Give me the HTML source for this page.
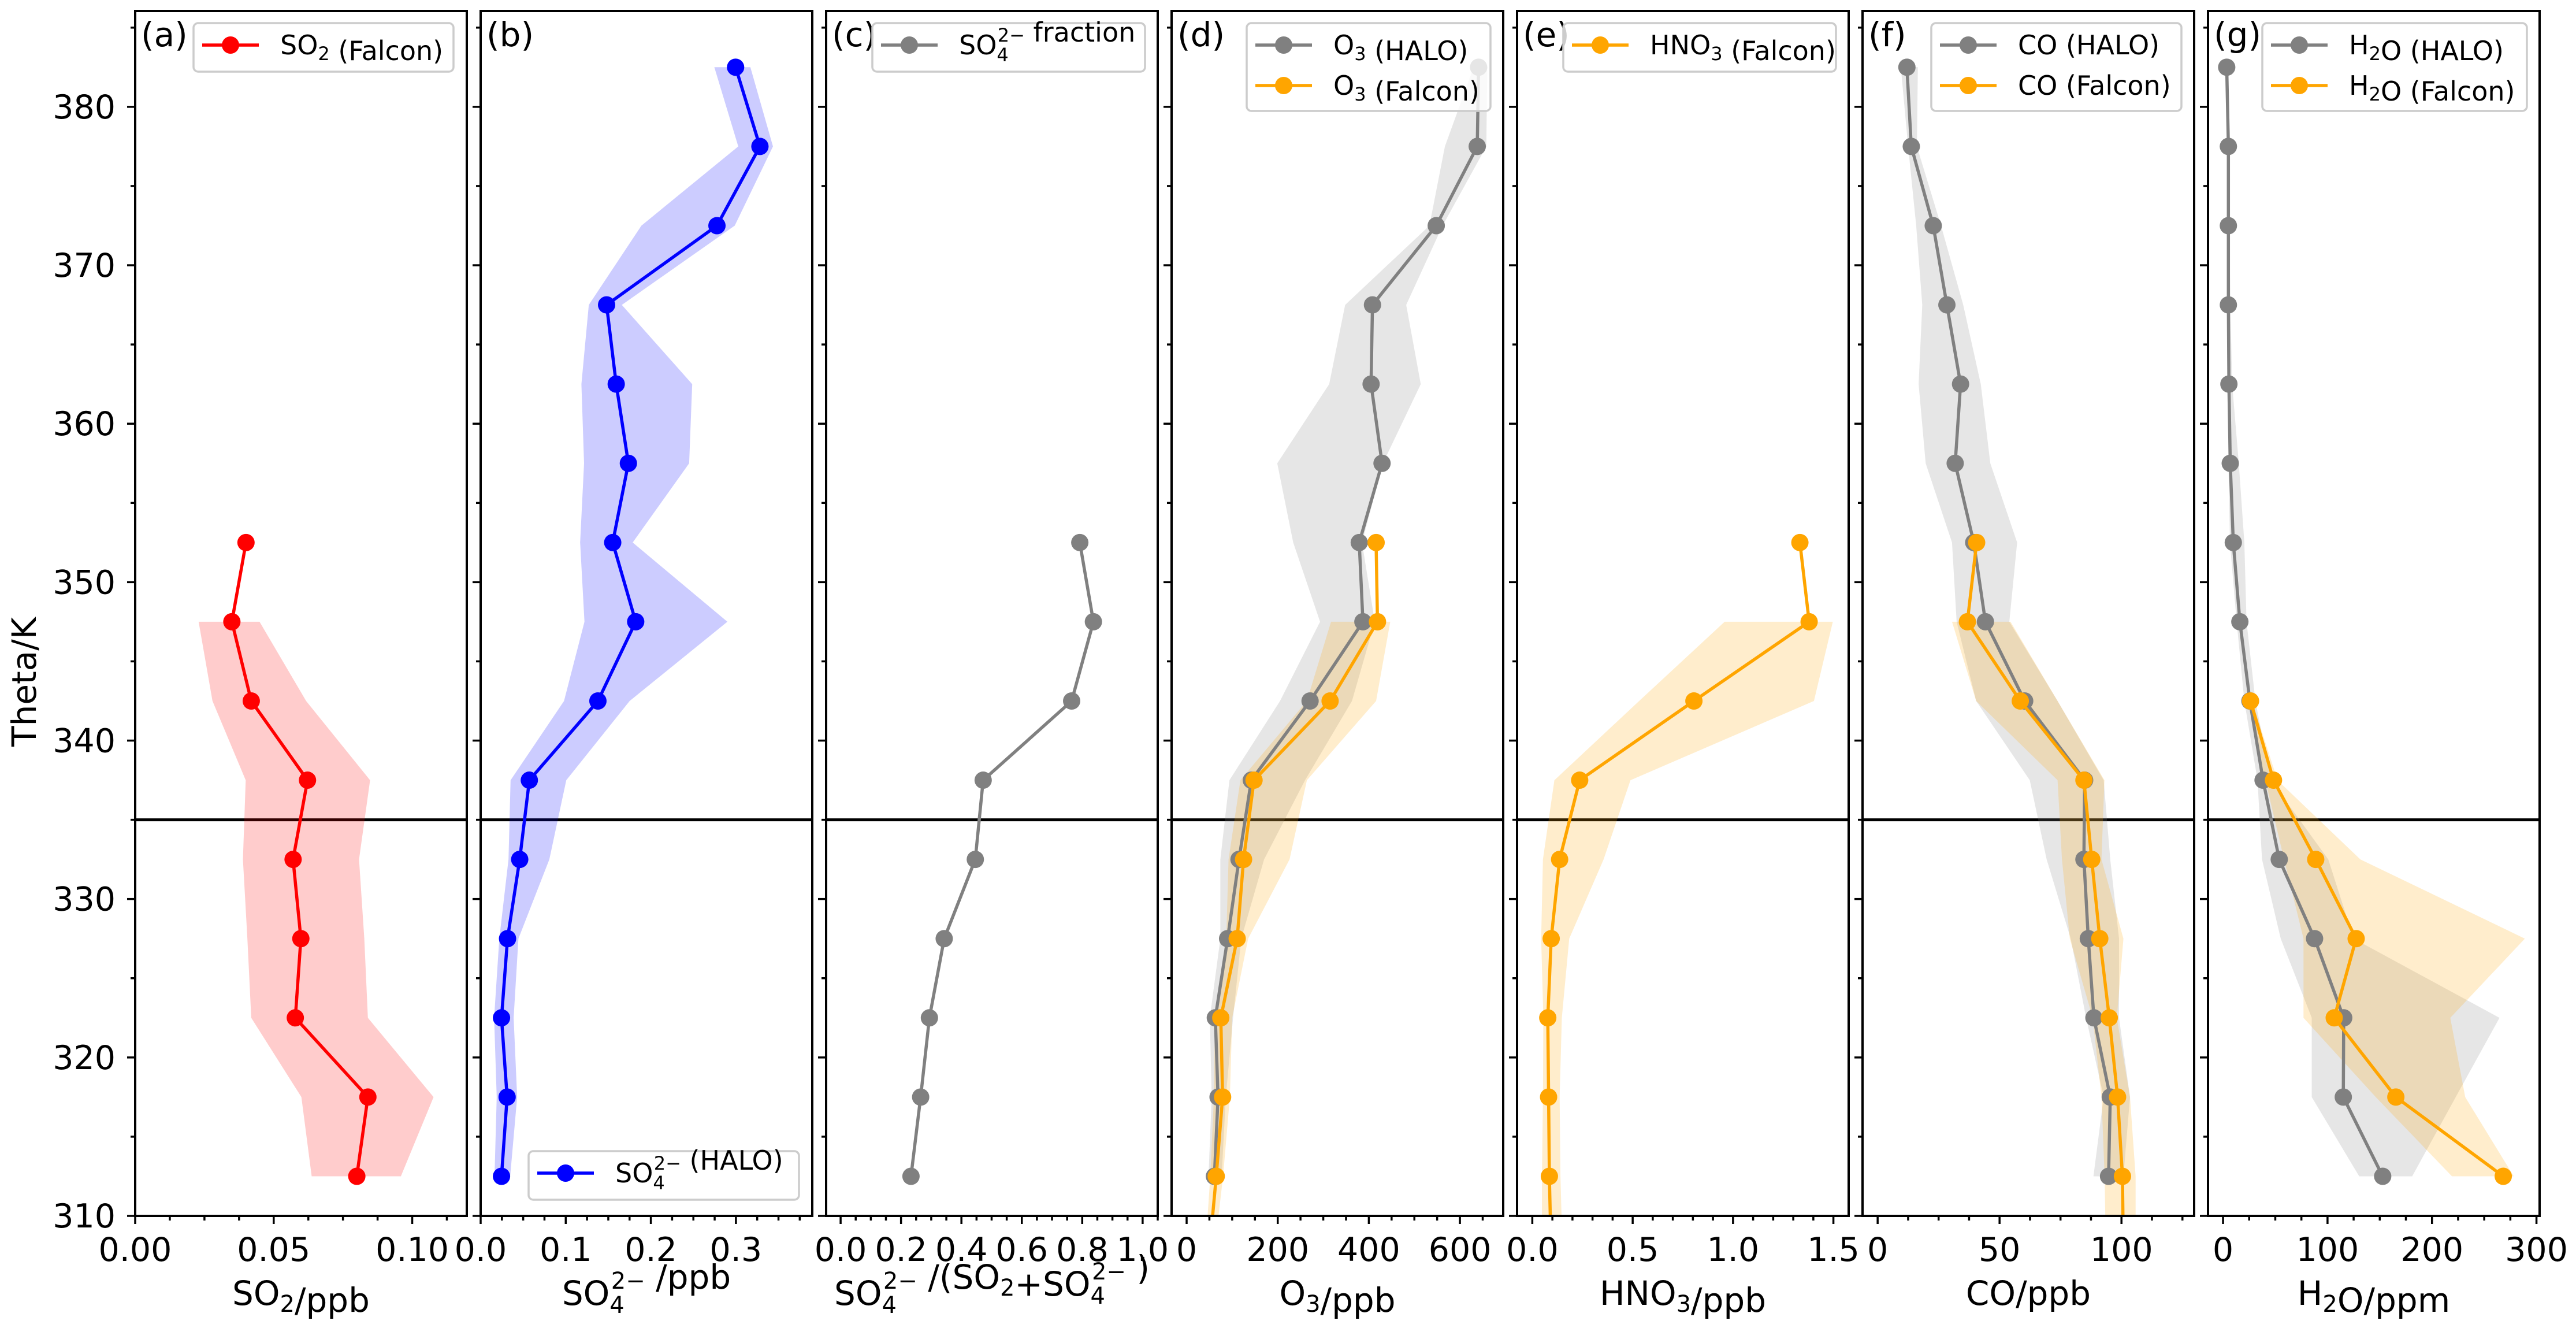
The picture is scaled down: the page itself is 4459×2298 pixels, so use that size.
<!DOCTYPE html>
<html><head><meta charset="utf-8">
<style>
html,body{margin:0;padding:0;background:#fff;}
svg{display:block;font-family:"DejaVu Sans","Liberation Sans",sans-serif;}
</style></head>
<body>
<svg id="fig" xmlns="http://www.w3.org/2000/svg" width="4459" height="2298" viewBox="0 0 4459 2298">
<rect x="0" y="0" width="4459" height="2298" fill="#fff"/>
<text transform="translate(62,1180) rotate(-90)" text-anchor="middle" font-size="58">Theta/K</text>
</svg>
<script>
// ---- data ----
const thetaHALO = [312.5,317.5,322.5,327.5,332.5,337.5,342.5,347.5,352.5,357.5,362.5,367.5,372.5,377.5,382.5];
const thetaSO2 = [312.5,317.5,322.5,327.5,332.5,337.5,342.5,347.5,352.5];
const thetaFalcon = [307.5,312.5,317.5,322.5,327.5,332.5,337.5,342.5,347.5,352.5];
const thetaH2OF = [312.5,317.5,322.5,327.5,332.5,337.5,342.5];

const so2 = [0.0800,0.0840,0.0578,0.0598,0.0570,0.0622,0.0419,0.0349,0.0400];
const so2Lo = [0.0637,0.0600,0.0419,0.0405,0.0389,0.0399,0.0279,0.0229];
const so2Hi = [0.0959,0.1077,0.0840,0.0827,0.0808,0.0848,0.0617,0.0449];

const so4 = [0.0245,0.0311,0.0245,0.0316,0.0459,0.0572,0.1378,0.1822,0.1552,0.1736,0.1593,0.1480,0.2777,0.3282,0.2996];
const so4Lo = [0.0163,0.0189,0.0158,0.0219,0.0327,0.0352,0.098,0.122,0.1169,0.1215,0.1184,0.1271,0.1889,0.3027,0.2746];
const so4Hi = [0.0347,0.0429,0.0388,0.0444,0.0807,0.1006,0.1751,0.29,0.1787,0.245,0.2486,0.1659,0.2986,0.3435,0.317];

const frac = [0.233,0.265,0.294,0.343,0.446,0.472,0.765,0.837,0.792];

const o3H = [61,69,63,90,115,142,271,387,379,429,405,408,548,638,641];
const o3HLo = [48,55,51,74,74,94,205,293,234,199,313,348,533,567,630];
const o3HHi = [77,86,102,120,170,260,363,413,385,431,514,482,562,658,660];
const o3F = [49,65,79,75,111,125,148,315,419,416];
const o3FLo = [40,52,60,62,87,92,118,264,317];
const o3FHi = [60,80,95,100,135,226,264,416,447];

const hno3 = [0.094,0.085,0.081,0.077,0.094,0.136,0.236,0.805,1.379,1.333];
const hno3Lo = [0.048,0.048,0.053,0.055,0.044,0.053,0.110,0.532,0.958];
const hno3Hi = [0.151,0.140,0.136,0.147,0.184,0.355,0.489,1.403,1.497];

const coH = [94.7,95.4,88.7,86.4,84.6,84.9,60.3,44.2,39.4,31.8,34.0,28.4,22.8,13.8,12.0];
const coHLo = [88.5,92.7,85.5,79.2,69.3,62.4,40.4,32.4,30.5,19.7,16.8,18.3,15.8,12.5,9.5];
const coHHi = [100.8,103.5,99,99,95.4,92.7,73.8,54,57.2,46.2,42.3,35.1,26,16.1,16.5];
const coF = [100.8,100.4,98.4,95.0,91.1,87.8,84.6,58.5,36.8,40.6];
const coFLo = [93.6,93.1,91.8,88.2,78.8,75.6,73.8,40.4,30.5];
const coFHi = [105.8,105.8,103.5,98.1,100.8,91.8,93,73.8,54.5];

const h2oH = [152.8,115.1,115.5,87.6,53.8,38.3,25.7,16.1,9.8,6.9,5.6,5.1,5.1,5.1,3.5];
const h2oHLo = [130.3,84.9,84.9,55.2,37.3,33,20.4,13,6.6,5.2,4.5,4,4,4,3];
const h2oHHi = [181,222.7,264.6,125,100.7,45.7,31,22.5,20.4,15.1,8.7,7,6,6,5];
const h2oF = [268.2,165.4,106.4,127.4,88.7,48.3,26.3];
const h2oFLo = [219.1,146.2,77,77,58.4,40.5,23.5];
const h2oFHi = [278.3,231.8,217.5,288.9,131.4,52.1,27.8];

const yTicks = [310,320,330,340,350,360,370,380];
const yTickLabels = ["310","320","330","340","350","360","370","380"];
const xTicksA = [0,0.05,0.10]; const xTickLabelsA = ["0.00","0.05","0.10"];
const xTicksB = [0,0.1,0.2,0.3]; const xTickLabelsB = ["0.0","0.1","0.2","0.3"];
const xTicksC = [0,0.2,0.4,0.6,0.8,1.0]; const xTickLabelsC = ["0.0","0.2","0.4","0.6","0.8","1.0"];
const xTicksD = [0,200,400,600]; const xTickLabelsD = ["0","200","400","600"];
const xTicksE = [0,0.5,1.0,1.5]; const xTickLabelsE = ["0.0","0.5","1.0","1.5"];
const xTicksF = [0,50,100]; const xTickLabelsF = ["0","50","100"];
const xTicksG = [0,100,200,300]; const xTickLabelsG = ["0","100","200","300"];
const tropopauseTheta = 335;

// ---- layout ----
const NS = "http://www.w3.org/2000/svg";
const svg = document.getElementById('fig');
const TOP = 19, BOTTOM = 2104, YMIN = 310, YMAX = 386.05, PW = 574;
function yS(t){ return BOTTOM - (t - YMIN) / (YMAX - YMIN) * (BOTTOM - TOP); }
function mk(tag, attrs, parent){ const e = document.createElementNS(NS, tag); for (const k in attrs) e.setAttribute(k, attrs[k]); (parent||svg).appendChild(e); return e; }

const C = {red:'#ff0000', blue:'#0000ff', grey:'#808080', orange:'#ffa500'};

function panel(i, key, xmin, xmax, minorStep, ticks, tickLabels, xlabelHTML, letter){
  const L = 234 + 598 * i;
  const xS = v => L + (v - xmin) / (xmax - xmin) * PW;
  const g = mk('g', {});
  
  
  const cp = mk('clipPath', {id: 'clip' + i}, g);
  mk('rect', {x: L, y: TOP, width: PW, height: BOTTOM - TOP}, cp);
  const plot = mk('g', {'clip-path': 'url(#clip' + i + ')'}, g);
  const hl = mk('line', {x1: L, x2: L + PW, y1: yS(tropopauseTheta), y2: yS(tropopauseTheta), stroke: '#000', 'stroke-width': 5}, plot);
  
  
  const fr = mk('rect', {x: L, y: TOP, width: PW, height: BOTTOM - TOP, fill: 'none', stroke: '#000', 'stroke-width': 4}, g);
  
  
  for (let t = 310; t <= 385; t += 5){
    const major = t % 10 === 0;
    mk('line', {x1: L - (major ? 14 : 8), x2: L, y1: yS(t), y2: yS(t), stroke: '#000', 'stroke-width': 3.5}, g);
  }
  if (i === 0){
    yTicks.forEach((t, k) => {
      const tl = mk('text', {x: 200, y: yS(t) + 20, 'text-anchor': 'end', 'font-size': 57}, g);
      tl.textContent = yTickLabels[k];
      
      
    });
  }
  const start = Math.ceil((xmin - 1e-9) / minorStep);
  for (let k = start; k * minorStep <= xmax + 1e-9; k++){
    const v = k * minorStep;
    const major = ticks.some(t => Math.abs(t - v) < minorStep * 0.01);
    mk('line', {x1: xS(v), x2: xS(v), y1: BOTTOM, y2: BOTTOM + (major ? 14 : 8), stroke: '#000', 'stroke-width': 3.5}, g);
  }
  ticks.forEach((t, k) => {
    const tl = mk('text', {x: xS(t), y: 2182, 'text-anchor': 'middle', 'font-size': 57}, g);
    tl.textContent = tickLabels[k];
    
    
  });
  const xl = mk('text', {x: L + PW / 2, y: 2258, 'text-anchor': 'middle', 'font-size': 58}, g);
  xl.innerHTML = xlabelHTML;
  
  
  const pl = mk('text', {x: L + 10, y: 80, 'font-size': 58}, g);
  pl.textContent = '(' + letter + ')';
  
  
  return {L, xS, g, plot};
}

function band(P, th, lo, hi, color, name){
  let d = '';
  lo.forEach((v, k) => { d += (k ? 'L' : 'M') + P.xS(v).toFixed(1) + ',' + yS(th[k]).toFixed(1); });
  for (let k = hi.length - 1; k >= 0; k--) d += 'L' + P.xS(hi[k]).toFixed(1) + ',' + yS(th[k]).toFixed(1);
  const p = mk('path', {d: d + 'Z', fill: color, 'fill-opacity': 0.2, stroke: 'none'}, P.plot);
  
  
}
function series(P, th, vals, color, name){
  const pts = vals.map((v, k) => P.xS(v).toFixed(1) + ',' + yS(th[k]).toFixed(1)).join(' ');
  const pl = mk('polyline', {points: pts, fill: 'none', stroke: color, 'stroke-width': 5.5, 'stroke-linejoin': 'round'}, P.plot);
  
  
  vals.forEach((v, k) => {
    const c = mk('circle', {cx: P.xS(v), cy: yS(th[k]), r: 15, fill: color}, P.plot);
    
    
  });
}
function legend(P, x, y, w, entries){
  const g = mk('g', {}, P.g);
  
  
  const h = entries.length === 1 ? 84 : 152;
  mk('rect', {x: x, y: y, width: w, height: h, rx: 8, fill: '#fff', 'fill-opacity': 0.8, stroke: '#cccccc', 'stroke-width': 3.5}, g);
  entries.forEach((e, k) => {
    const cy = y + 38 + k * 70;
    mk('line', {x1: x + 15, x2: x + 113, y1: cy, y2: cy, stroke: e.color, 'stroke-width': 5.5}, g);
    mk('circle', {cx: x + 64, cy: cy, r: 15, fill: e.color}, g);
    const t = mk('text', {x: x + 150, y: cy + 16, 'font-size': 46}, g);
    t.innerHTML = e.html;
    
    
  });
}
const SUB = (s) => '<tspan dy="10" font-size="32">' + s + '</tspan><tspan dy="-10"></tspan>';
const SO4 = 'SO<tspan dy="12" font-size="32">4</tspan><tspan dx="-19" dy="-34" font-size="32">2−</tspan><tspan dy="22"></tspan>';
const SO4L = 'SO<tspan dy="14" font-size="40">4</tspan><tspan dx="-23" dy="-42" font-size="40">2−</tspan><tspan dy="28"></tspan>';
const SUBL = (s) => '<tspan dy="12" font-size="40">' + s + '</tspan><tspan dy="-12"></tspan>';

const A = panel(0, 'so2', 0, 0.1197, 0.0125, xTicksA, xTickLabelsA, 'SO' + SUBL('2') + '/ppb', 'a');
band(A, thetaSO2, so2Lo, so2Hi, C.red, 'so2-range');
series(A, thetaSO2, so2, C.red, 'so2-falcon');
legend(A, 335, 40, 450, [{color: C.red, html: 'SO' + SUB('2') + ' (Falcon)'}]);

const B = panel(1, 'so4', 0, 0.3897, 0.025, xTicksB, xTickLabelsB, SO4L + ' /ppb', 'b');
band(B, thetaHALO, so4Lo, so4Hi, C.blue, 'so4-range');
series(B, thetaHALO, so4, C.blue, 'so4-halo');
legend(B, 915, 1992, 468, [{color: C.blue, html: SO4 + '  (HALO)'}]);

const Cc = panel(2, 'so4-fraction', -0.048, 1.05, 0.05, xTicksC, xTickLabelsC, SO4L + ' /(SO' + SUBL('2') + '+' + SO4L + ' )', 'c');
series(Cc, thetaSO2, frac, C.grey, 'so4-fraction');
legend(Cc, 1510, 40, 472, [{color: C.grey, html: SO4 + '  fraction'}]);

const D = panel(3, 'o3', -33, 695, 50, xTicksD, xTickLabelsD, 'O' + SUBL('3') + '/ppb', 'd');
band(D, thetaHALO, o3HLo, o3HHi, C.grey, 'o3-halo-range');
band(D, thetaFalcon, o3FLo, o3FHi, C.orange, 'o3-falcon-range');
series(D, thetaHALO, o3H, C.grey, 'o3-halo');
series(D, thetaFalcon, o3F, C.orange, 'o3-falcon');
legend(D, 2158, 40, 422, [{color: C.grey, html: 'O' + SUB('3') + ' (HALO)'}, {color: C.orange, html: 'O' + SUB('3') + ' (Falcon)'}]);

const E = panel(4, 'hno3', -0.076, 1.576, 0.1, xTicksE, xTickLabelsE, 'HNO' + SUBL('3') + '/ppb', 'e');
band(E, thetaFalcon, hno3Lo, hno3Hi, C.orange, 'hno3-range');
series(E, thetaFalcon, hno3, C.orange, 'hno3-falcon');
legend(E, 2706, 40, 472, [{color: C.orange, html: 'HNO' + SUB('3') + ' (Falcon)'}]);

const F = panel(5, 'co', -6.2, 129.8, 12.5, xTicksF, xTickLabelsF, 'CO/ppb', 'f');
band(F, thetaHALO, coHLo, coHHi, C.grey, 'co-halo-range');
band(F, thetaFalcon, coFLo, coFHi, C.orange, 'co-falcon-range');
series(F, thetaHALO, coH, C.grey, 'co-halo');
series(F, thetaFalcon, coF, C.orange, 'co-falcon');
legend(F, 3343, 40, 433, [{color: C.grey, html: 'CO (HALO)'}, {color: C.orange, html: 'CO (Falcon)'}]);

const G = panel(6, 'h2o', -14.4, 303, 25, xTicksG, xTickLabelsG, 'H' + SUBL('2') + 'O/ppm', 'g');
band(G, thetaHALO, h2oHLo, h2oHHi, C.grey, 'h2o-halo-range');
band(G, thetaH2OF, h2oFLo, h2oFHi, C.orange, 'h2o-falcon-range');
series(G, thetaHALO, h2oH, C.grey, 'h2o-halo');
series(G, thetaH2OF, h2oF, C.orange, 'h2o-falcon');
legend(G, 3916, 40, 458, [{color: C.grey, html: 'H' + SUB('2') + 'O (HALO)'}, {color: C.orange, html: 'H' + SUB('2') + 'O (Falcon)'}]);
</script>
</body></html>
